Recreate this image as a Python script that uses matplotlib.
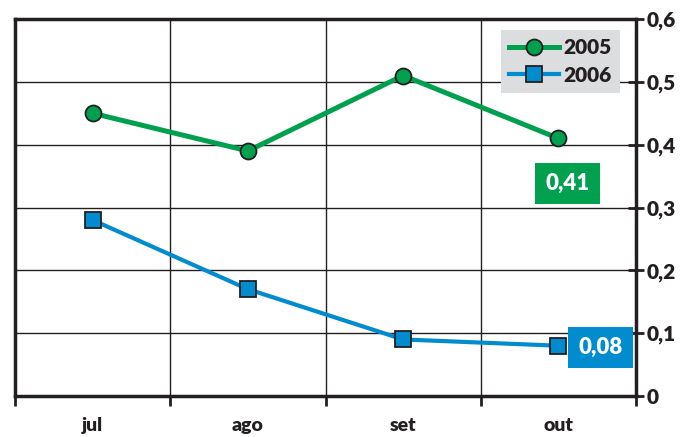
import matplotlib
matplotlib.use('Agg')
import matplotlib.pyplot as plt
import numpy as np

# data
months = ['jul', 'ago', 'set', 'out']
v2005 = [0.45, 0.39, 0.51, 0.41]
v2006 = [0.28, 0.17, 0.09, 0.08]
yticks = [0, 0.1, 0.2, 0.3, 0.4, 0.5, 0.6]
ytick_labels = ['0', '0,1', '0,2', '0,3', '0,4', '0,5', '0,6']

green, blue, dark = '#00a04f', '#008ccf', '#231f20'
plt.rcParams['font.family'] = ['Lato', 'DejaVu Sans']

fig = plt.figure(figsize=(6.8, 4.37), dpi=100)
ax = fig.add_axes([15/680, 41/437, 621/680, 377/437])
x = np.arange(len(months))

ax.plot(x, v2005, color=green, lw=3.6, marker='o', ms=11.5, mfc=green, mec=dark, mew=1.3, label='2005', zorder=4)
ax.plot(x, v2006, color=blue, lw=3, marker='s', ms=11.5, mfc=blue, mec=dark, mew=1.3, label='2006', zorder=4)

ax.set_xlim(-0.5, len(months) - 0.5)
ax.set_ylim(0, 0.6)
ax.set_xticks(x)
ax.set_xticklabels(months, fontsize=14, fontweight='heavy', color=dark)
ax.set_xticks(np.arange(-0.5, len(months)), minor=True)
ax.tick_params(axis='x', which='major', length=0, pad=15)
ax.tick_params(axis='x', which='minor', length=7, width=2, color=dark, direction='out')
ax.yaxis.tick_right()
ax.set_yticks(yticks)
ax.set_yticklabels(ytick_labels, fontsize=15, fontweight='heavy', color=dark)
ax.tick_params(axis='y', length=12, width=2, color=dark, direction='inout', pad=2)

ax.grid(True, axis='y', color=dark, lw=1)
ax.grid(True, axis='x', which='minor', color=dark, lw=1)
for s in ax.spines.values():
    s.set_linewidth(2.5)
    s.set_color(dark)

leg = ax.legend(loc='upper right', bbox_to_anchor=(0.974, 0.971), borderaxespad=0,
                facecolor='#dcdddf', edgecolor='none', fancybox=False, framealpha=1,
                prop={'size': 15, 'weight': 'heavy'}, handlelength=2.4, labelspacing=0.4,
                handletextpad=0.2, borderpad=0.4)
for t in leg.get_texts():
    t.set_color(dark)

# value boxes for the last month
ax.annotate('0,41', (x[-1], v2005[-1]), xytext=(9, -45), textcoords='offset pixels',
            ha='center', va='center', fontsize=16, fontweight='heavy', color='white',
            bbox=dict(boxstyle='square,pad=0.45', fc=green, ec='none'), zorder=5)
ax.annotate('0,08', (x[-1], v2006[-1]), xytext=(42, -2), textcoords='offset pixels',
            ha='center', va='center', fontsize=16, fontweight='heavy', color='white',
            bbox=dict(boxstyle='square,pad=0.45', fc=blue, ec='none'), zorder=5,
            annotation_clip=False)

fig.savefig('out.png', dpi=100)
